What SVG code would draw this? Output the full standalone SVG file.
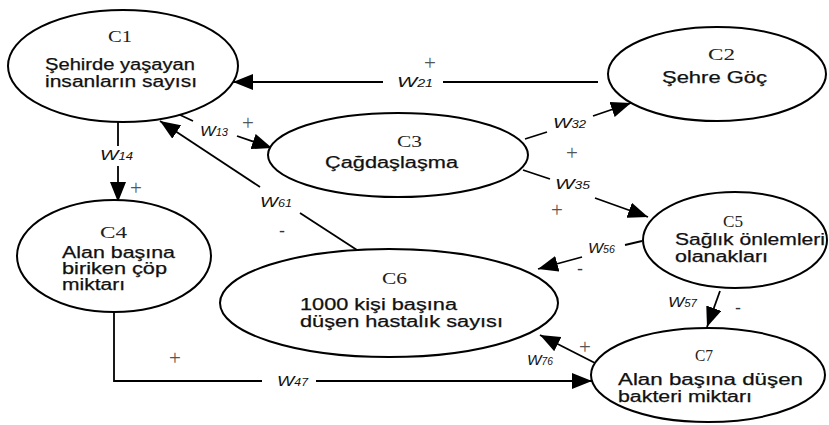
<svg xmlns="http://www.w3.org/2000/svg" width="829" height="425" viewBox="0 0 829 425">
<style>
.node{fill:#fff;stroke:#000;stroke-width:2}
.t{font-family:"Liberation Serif",serif;font-size:16px;fill:#222}
.b{font-family:"Liberation Sans",Arial,sans-serif;font-size:16px;fill:#111;stroke:#111;stroke-width:0.25}
.c{fill:none;stroke:#000;stroke-width:1.8}
.w{font-family:"Liberation Sans",Arial,sans-serif;font-style:italic;font-size:15px;fill:#111}
.w tspan.s{font-size:10px}
.p{font-family:"Liberation Serif",serif;font-size:21px;fill:#555;text-anchor:middle}
.m{font-family:"Liberation Sans",Arial,sans-serif;font-size:18px;fill:#333;text-anchor:middle}
</style>
<defs>
<marker id="ah" markerUnits="userSpaceOnUse" markerWidth="21" markerHeight="16" refX="20" refY="8" orient="auto">
<path d="M0,0 L20,8 L0,16 z" fill="#000"/>
</marker>
</defs>
<rect width="829" height="425" fill="#fff"/>
<g id="connectors">
<g id="e21">
<line class="c" x1="598" y1="82" x2="443" y2="82"/>
<line class="c" x1="383" y1="82" x2="233" y2="82" marker-end="url(#ah)"/>
<text class="w" x="397" y="87" textLength="36" lengthAdjust="spacingAndGlyphs">W<tspan class="s">21</tspan></text>
<text class="p" x="430" y="70">+</text>
</g>
<g id="e13">
<line class="c" x1="178" y1="114" x2="193" y2="121"/>
<line class="c" x1="237" y1="136" x2="272" y2="148" marker-end="url(#ah)"/>
<text class="w" x="200" y="136" textLength="28" lengthAdjust="spacingAndGlyphs">W<tspan class="s">13</tspan></text>
<text class="p" x="248" y="130">+</text>
</g>
<g id="e14">
<line class="c" x1="118" y1="122" x2="118" y2="146"/>
<line class="c" x1="118" y1="166" x2="118" y2="202" marker-end="url(#ah)"/>
<text class="w" x="100" y="160" textLength="33" lengthAdjust="spacingAndGlyphs">W<tspan class="s">14</tspan></text>
<text class="p" x="136" y="195">+</text>
</g>
<g id="e61">
<line class="c" x1="357" y1="250" x2="300" y2="213"/>
<line class="c" x1="260" y1="187" x2="160" y2="121" marker-end="url(#ah)"/>
<text class="w" x="260" y="207" textLength="32" lengthAdjust="spacingAndGlyphs">W<tspan class="s">61</tspan></text>
<text class="m" x="282" y="237">-</text>
</g>
<g id="e32">
<line class="c" x1="525" y1="139" x2="547" y2="132"/>
<line class="c" x1="593" y1="116" x2="631" y2="103" marker-end="url(#ah)"/>
<text class="w" x="553" y="128" textLength="33" lengthAdjust="spacingAndGlyphs">W<tspan class="s">32</tspan></text>
<text class="p" x="572" y="160">+</text>
</g>
<g id="e35">
<line class="c" x1="523" y1="170" x2="550" y2="179"/>
<line class="c" x1="595" y1="198" x2="648" y2="217" marker-end="url(#ah)"/>
<text class="w" x="555" y="189" textLength="35" lengthAdjust="spacingAndGlyphs">W<tspan class="s">35</tspan></text>
<text class="p" x="557" y="217">+</text>
</g>
<g id="e56">
<line class="c" x1="642" y1="241" x2="625" y2="245"/>
<line class="c" x1="582" y1="257" x2="538" y2="269" marker-end="url(#ah)"/>
<text class="w" x="588" y="253" textLength="27" lengthAdjust="spacingAndGlyphs">W<tspan class="s">56</tspan></text>
<text class="m" x="580" y="275">-</text>
</g>
<g id="e57">
<line class="c" x1="720" y1="291" x2="707" y2="327" marker-end="url(#ah)"/>
<text class="w" x="668" y="307" textLength="29" lengthAdjust="spacingAndGlyphs">W<tspan class="s">57</tspan></text>
<text class="m" x="738" y="314">-</text>
</g>
<g id="e76">
<line class="c" x1="595" y1="363" x2="540" y2="335" marker-end="url(#ah)"/>
<text class="w" x="527" y="365" textLength="26" lengthAdjust="spacingAndGlyphs">W<tspan class="s">76</tspan></text>
<text class="p" x="585" y="354">+</text>
</g>
<g id="e47">
<polyline class="c" points="114,312 114,381 262,381"/>
<line class="c" x1="316" y1="381" x2="592" y2="381" marker-end="url(#ah)"/>
<text class="w" x="277" y="386" textLength="31" lengthAdjust="spacingAndGlyphs">W<tspan class="s">47</tspan></text>
<text class="p" x="175" y="365">+</text>
</g>
</g>
<g id="C1">
<ellipse class="node" cx="123" cy="66" rx="115" ry="56"/>
<text class="t" x="108" y="42" textLength="24" lengthAdjust="spacingAndGlyphs">C1</text>
<text class="b" x="45" y="70" textLength="150" lengthAdjust="spacingAndGlyphs">Şehirde yaşayan</text>
<text class="b" x="45" y="87" textLength="152" lengthAdjust="spacingAndGlyphs">insanların sayısı</text>
</g>
<g id="C2">
<ellipse class="node" cx="717" cy="74" rx="109" ry="47"/>
<text class="t" x="708" y="60" textLength="27" lengthAdjust="spacingAndGlyphs">C2</text>
<text class="b" x="662" y="83" textLength="105" lengthAdjust="spacingAndGlyphs">Şehre Göç</text>
</g>
<g id="C3">
<ellipse class="node" cx="398" cy="155" rx="130" ry="42"/>
<text class="t" x="397" y="147" textLength="25" lengthAdjust="spacingAndGlyphs">C3</text>
<text class="b" x="325" y="168" textLength="133" lengthAdjust="spacingAndGlyphs">Çağdaşlaşma</text>
</g>
<g id="C4">
<ellipse class="node" cx="114" cy="256" rx="97" ry="56"/>
<text class="t" x="100" y="238" textLength="27" lengthAdjust="spacingAndGlyphs">C4</text>
<text class="b" x="62" y="258" textLength="113" lengthAdjust="spacingAndGlyphs">Alan başına</text>
<text class="b" x="62" y="274" textLength="105" lengthAdjust="spacingAndGlyphs">biriken çöp</text>
<text class="b" x="62" y="290" textLength="63" lengthAdjust="spacingAndGlyphs">miktarı</text>
</g>
<g id="C5">
<ellipse class="node" cx="735" cy="240" rx="92" ry="48"/>
<text class="t" x="723" y="227" textLength="20" lengthAdjust="spacingAndGlyphs">C5</text>
<text class="b" x="675" y="245" textLength="150" lengthAdjust="spacingAndGlyphs">Sağlık önlemleri</text>
<text class="b" x="675" y="262" textLength="93" lengthAdjust="spacingAndGlyphs">olanakları</text>
</g>
<g id="C6">
<ellipse class="node" cx="389" cy="303" rx="169" ry="54"/>
<text class="t" x="382" y="284" textLength="25" lengthAdjust="spacingAndGlyphs">C6</text>
<text class="b" x="300" y="310" textLength="157" lengthAdjust="spacingAndGlyphs">1000 kişi başına</text>
<text class="b" x="300" y="327" textLength="203" lengthAdjust="spacingAndGlyphs">düşen hastalık sayısı</text>
</g>
<g id="C7">
<ellipse class="node" cx="708" cy="375" rx="117" ry="47"/>
<text class="t" x="695" y="361" textLength="18" lengthAdjust="spacingAndGlyphs">C7</text>
<text class="b" x="618" y="385" textLength="185" lengthAdjust="spacingAndGlyphs">Alan başına düşen</text>
<text class="b" x="618" y="402" textLength="134" lengthAdjust="spacingAndGlyphs">bakteri miktarı</text>
</g>
</svg>
